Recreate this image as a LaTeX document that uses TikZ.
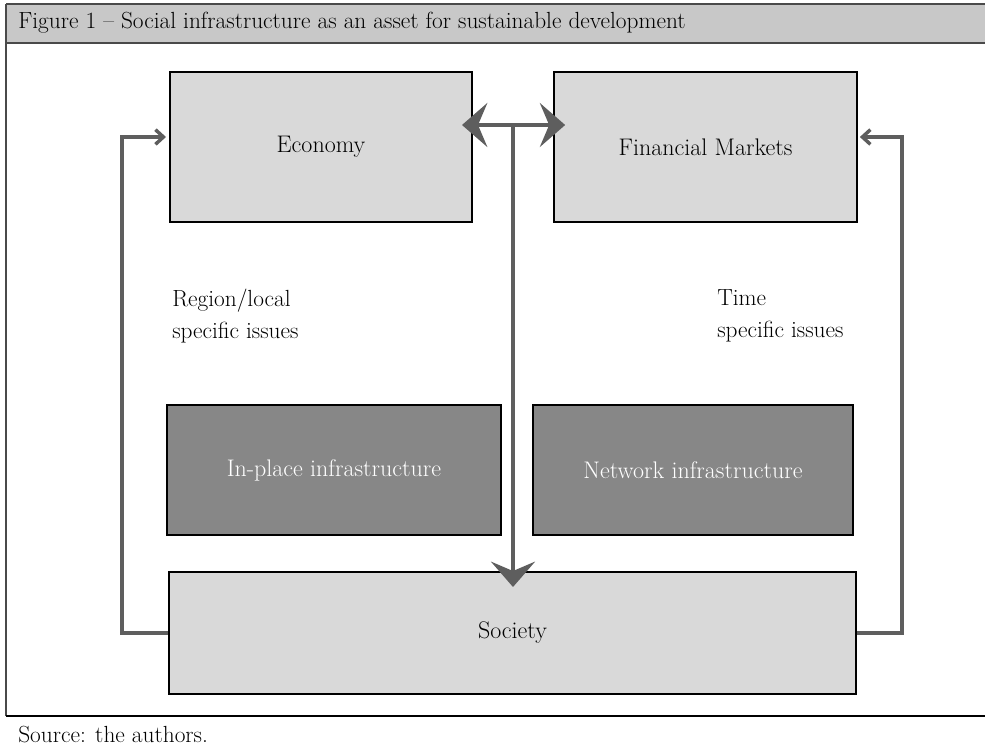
\documentclass[tikz,border=0pt]{standalone}
\usetikzlibrary{positioning,calc,arrows.meta}
\definecolor{lightfill}{HTML}{D9D9D9}
\definecolor{darkfill}{HTML}{878787}
\definecolor{barfill}{HTML}{C8C8C8}
\definecolor{linkgray}{HTML}{5E5E5E}
\definecolor{rulegray}{HTML}{4A4A4A}

\begin{document}
\begin{tikzpicture}[x=0.75pt,y=-0.75pt,
    box/.style={draw=black,line width=1.5pt,fill=lightfill,inner sep=0pt,
      font=\fontsize{18}{22}\selectfont},
    darkbox/.style={box,fill=darkfill,text=white},
    issue/.style={align=left,inner sep=0pt,font=\fontsize{17.5}{24}\selectfont},
    caption/.style={inner sep=0pt,font=\fontsize{17.5}{20}\selectfont},
    link/.style={draw=linkgray,line width=2.6pt},
    bigtip/.style={link,-{Stealth[length=19pt,width=33pt,inset=7pt]}},
    bothtip/.style={link,{Stealth[length=19pt,width=33pt,inset=7pt]}-{Stealth[length=19pt,width=33pt,inset=7pt]}},
    smalltip/.style={link,-{Straight Barb[length=6pt,width=11pt]}}]
  \useasboundingbox (0,0) rectangle (985,752);
  % frame of the figure
  \fill[barfill] (6,4) rectangle (985,43);
  \draw[rulegray,line width=1.5pt] (6,4) -- (985,4);
  \draw[rulegray,line width=1.5pt] (6,43) -- (985,43);
  \draw[rulegray,line width=1.2pt] (6,4) -- (6,716);
  \draw[black,line width=1pt] (6,716) -- (985,716);
  \node[caption,anchor=west] (title) at (18,23) {Figure 1 -- Social infrastructure as an asset for sustainable development};
  \node[caption,anchor=west] (source) at (18,735) {Source: the authors.};

  % boxes
  \node[box,minimum width=226.5pt,minimum height=112.5pt] (econ) at (321,147) {Economy};
  \node[box,minimum width=227pt,minimum height=112.5pt] (fin) at (705.5,147) {Financial Markets};
  \node[darkbox,minimum width=250.5pt,minimum height=97.5pt] (inplace) at (334,470) {In-place infrastructure};
  \node[darkbox,minimum width=240pt,minimum height=97.5pt] (network) at (693,470) {Network infrastructure};
  \node[box,minimum width=515pt,minimum height=91.5pt] (soc) at (512.5,633) {Society};

  \node[issue,anchor=west] (region) at (172,316) {Region/local\\specific issues};
  \node[issue,anchor=west] (time) at (717,316) {Time\\specific issues};

  % connectors
  \coordinate (hub) at (513,125);
  \draw[bothtip] ($(econ.east |- hub)+(-11,0)$) -- ($(fin.west |- hub)+(12,0)$);
  \draw[bigtip] (hub) -- ($(soc.north -| hub)+(0,16)$);
  \draw[smalltip] (soc.west) -| ($(econ.west)+(-47,-10)$) -- ($(econ.west)+(-3,-10)$);
  \draw[smalltip] (soc.east) -| ($(fin.east)+(44,-10)$) -- ($(fin.east)+(2,-10)$);
\end{tikzpicture}
\end{document}
